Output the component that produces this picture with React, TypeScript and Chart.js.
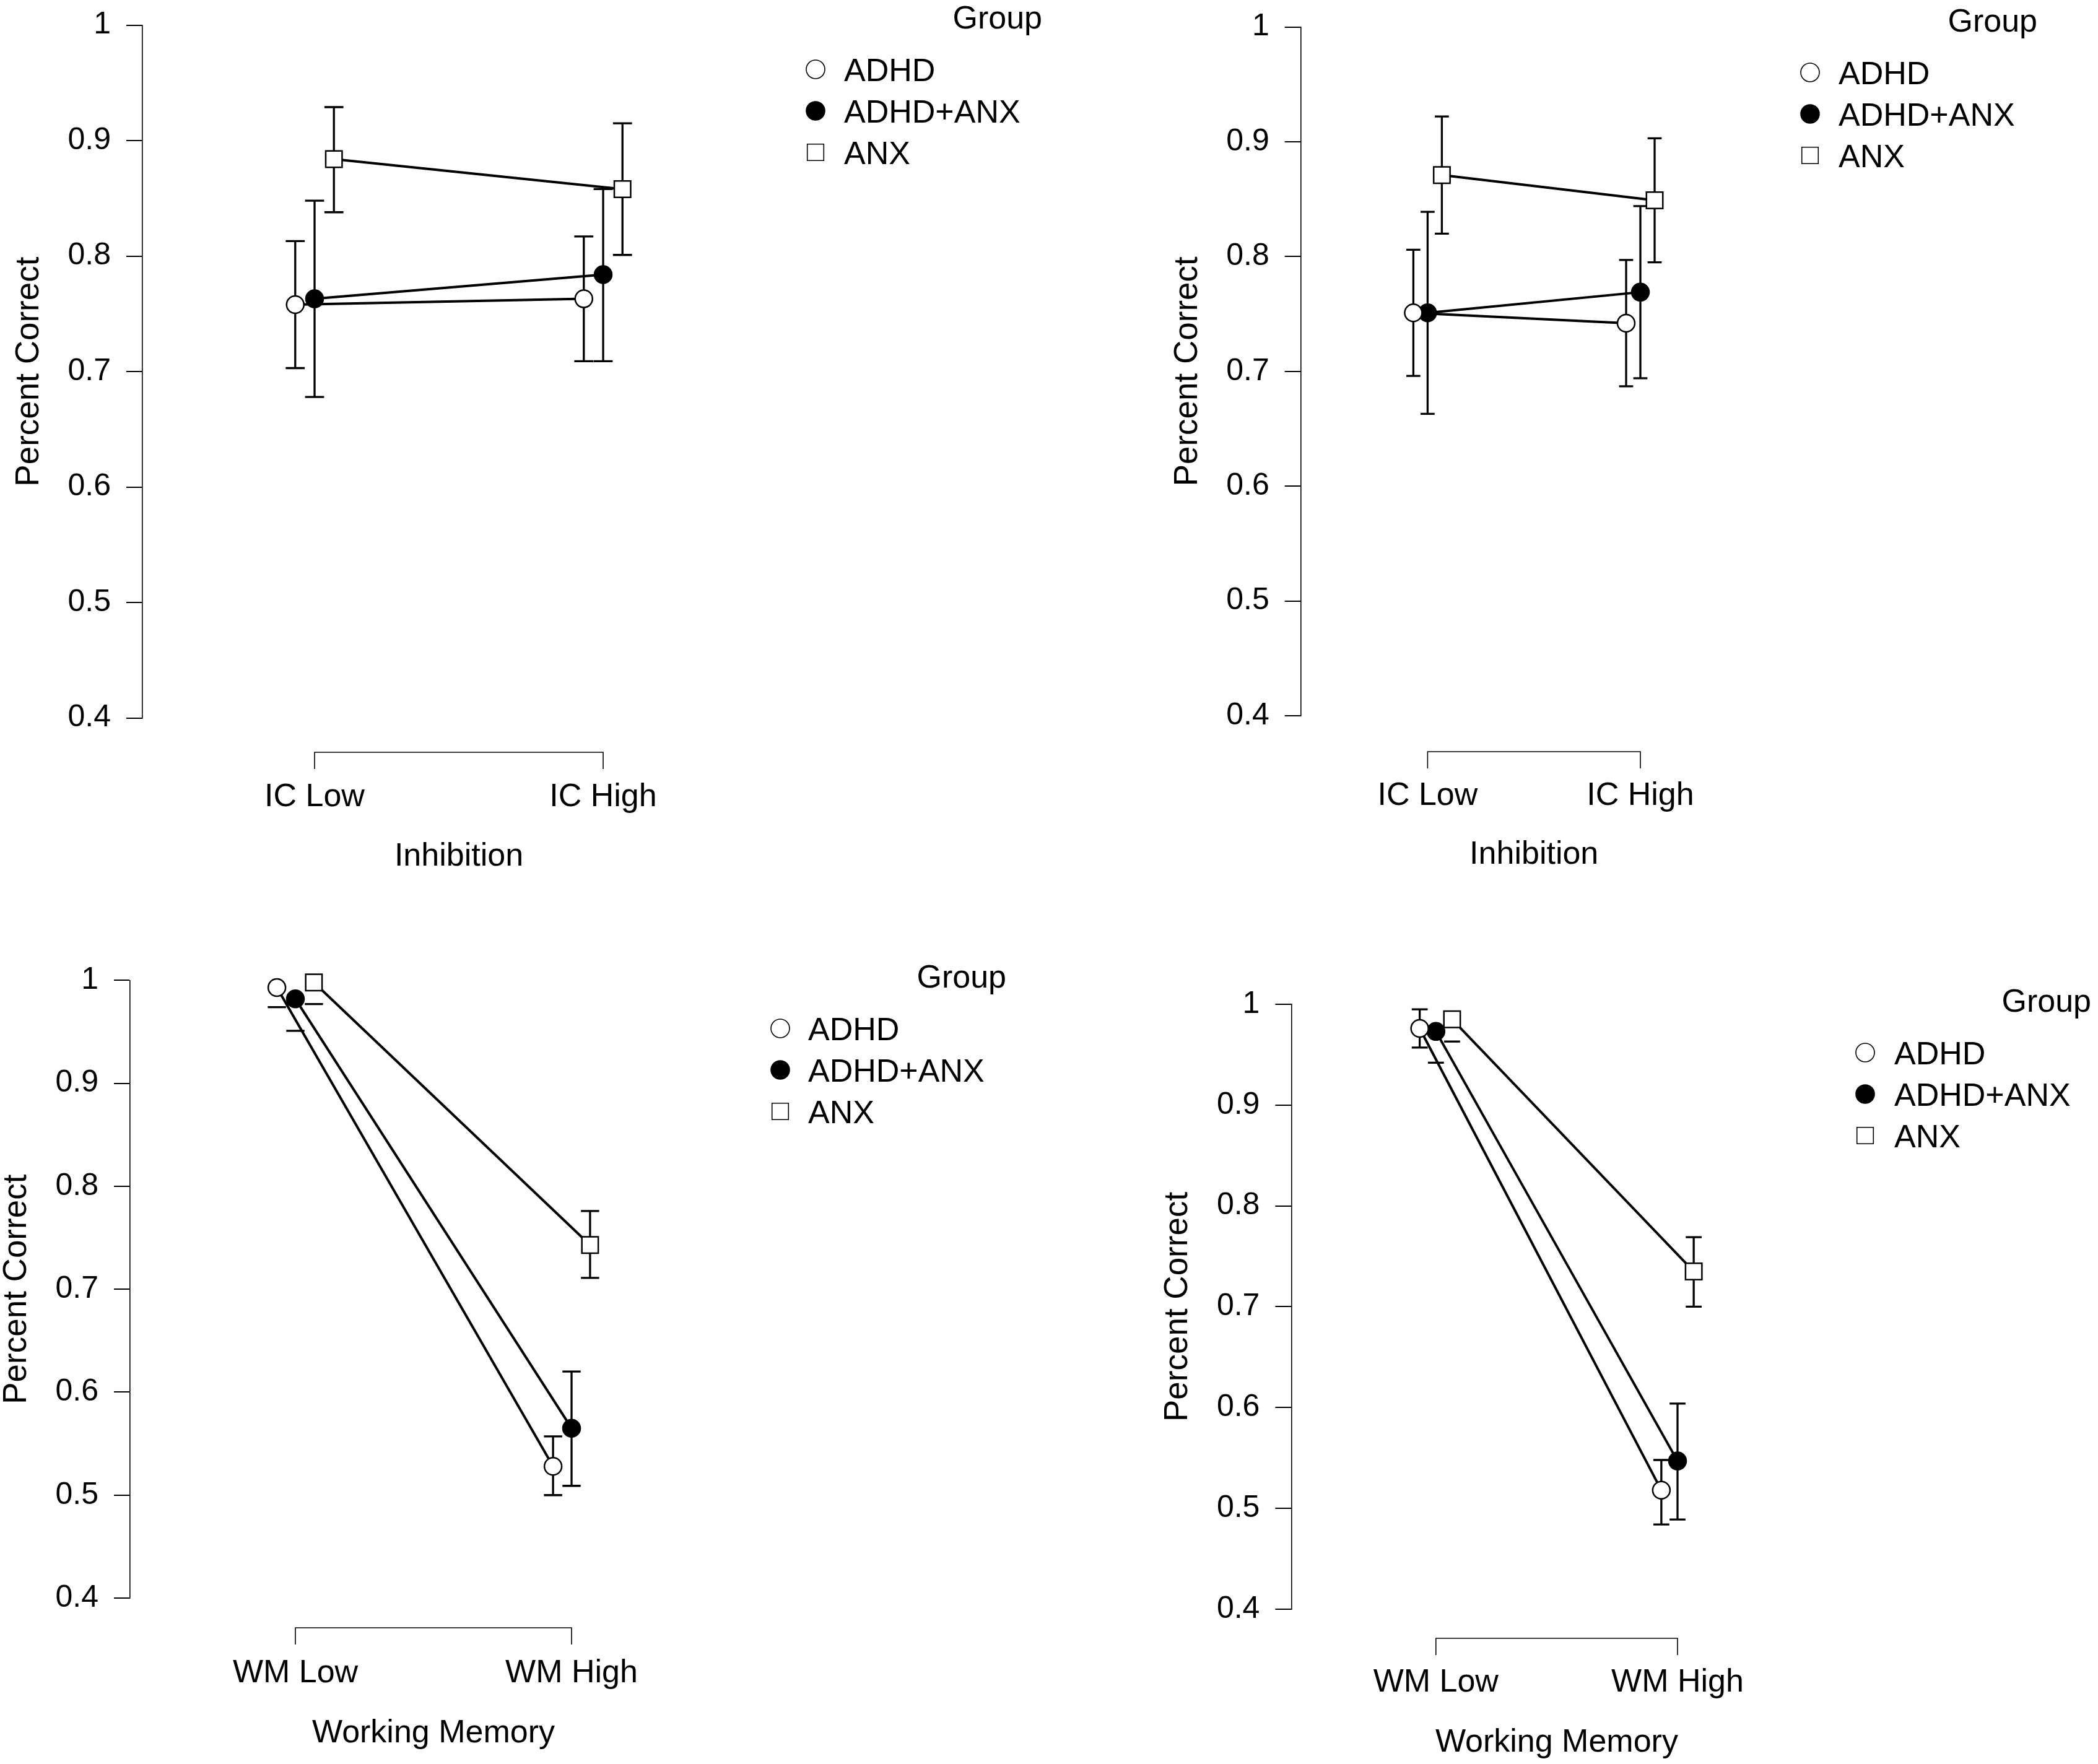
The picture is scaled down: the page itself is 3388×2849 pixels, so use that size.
import React, { useEffect, useRef } from 'react';
import { Chart, registerables } from 'chart.js';

Chart.register(...registerables);

const FONT = '"Liberation Sans", Arial, Helvetica, sans-serif';

// ---- data ----
const groups = ['ADHD', 'ADHD+ANX', 'ANX'];
const icLevels = ['IC Low', 'IC High'];
const wmLevels = ['WM Low', 'WM High'];
const yTicks = [0.4, 0.5, 0.6, 0.7, 0.8, 0.9, 1];

// inhibition, left panel (rows = ADHD, ADHD+ANX, ANX; cols = low, high)
const inhLeftMean = [[0.758, 0.763], [0.763, 0.784], [0.884, 0.858]];
const inhLeftLo = [[0.703, 0.709], [0.678, 0.709], [0.838, 0.801]];
const inhLeftHi = [[0.813, 0.817], [0.848, 0.858], [0.929, 0.915]];

// inhibition, right panel
const inhRightMean = [[0.751, 0.742], [0.751, 0.769], [0.871, 0.849]];
const inhRightLo = [[0.696, 0.687], [0.663, 0.694], [0.820, 0.795]];
const inhRightHi = [[0.806, 0.797], [0.839, 0.844], [0.922, 0.903]];

// working memory, left panel
const wmLeftMean = [[0.993, 0.528], [0.982, 0.565], [0.998, 0.743]];
const wmLeftLo = [[0.974, 0.500], [0.951, 0.509], [0.977, 0.711]];
const wmLeftHi = [[1.012, 0.557], [1.013, 0.620], [1.019, 0.776]];

// working memory, right panel
const wmRightMean = [[0.976, 0.518], [0.973, 0.547], [0.985, 0.735]];
const wmRightLo = [[0.957, 0.484], [0.942, 0.489], [0.963, 0.700]];
const wmRightHi = [[0.995, 0.548], [1.004, 0.604], [1.007, 0.769]];

// horizontal offset of each group around its level (x units)
const dodge = [-0.067, 0, 0.067];
const capHalf = 0.033;
const Y_MIN = 0.4;
const Y_MAX = 1;

// ---- layout (page pixels) ----
const panels = [
  {
    key: 'tl', mean: inhLeftMean, lo: inhLeftLo, hi: inhLeftHi, levels: icLevels, xTitle: 'Inhibition',
    box: { x: 0, y: 0, w: 1694, h: 1424 }, axisX: 230, yTop: 40.6, yBot: 1159.6, c0: 508, c1: 974,
    bracketY: 1215, labelBase: 1302, titleBase: 1398, yTitleX: 47.5,
    legend: { groupRight: 1683, markerX: 1317, textX: 1363, row1: 131 },
  },
  {
    key: 'tr', mean: inhRightMean, lo: inhRightLo, hi: inhRightHi, levels: icLevels, xTitle: 'Inhibition',
    box: { x: 1694, y: 0, w: 1694, h: 1424 }, axisX: 2100.7, yTop: 43.6, yBot: 1156, c0: 2305.4, c1: 2649,
    bracketY: 1214, labelBase: 1300, titleBase: 1395, yTitleX: 1918,
    legend: { groupRight: 3290, markerX: 2923, textX: 2969, row1: 136 },
  },
  {
    key: 'bl', mean: wmLeftMean, lo: wmLeftLo, hi: wmLeftHi, levels: wmLevels, xTitle: 'Working Memory',
    box: { x: 0, y: 1424, w: 1694, h: 1425 }, axisX: 210, yTop: 1583.4, yBot: 2581, c0: 477, c1: 923,
    bracketY: 2629, labelBase: 2717, titleBase: 2814, yTitleX: 27.8,
    legend: { groupRight: 1625, markerX: 1260, textX: 1305, row1: 1680 },
  },
  {
    key: 'br', mean: wmRightMean, lo: wmRightLo, hi: wmRightHi, levels: wmLevels, xTitle: 'Working Memory',
    box: { x: 1694, y: 1424, w: 1694, h: 1425 }, axisX: 2085.4, yTop: 1621.9, yBot: 2599, c0: 2318.8, c1: 2709,
    bracketY: 2646, labelBase: 2732, titleBase: 2829, yTitleX: 1902,
    legend: { groupRight: 3377, markerX: 3012, textX: 3059, row1: 1719 },
  },
];

const TITLE_SIZE = 53;
const TEXT_SIZE = 52;
const TICK_SIZE = 50;
const ROW_GAP = 67;

function drawMarker(ctx: CanvasRenderingContext2D, s: number, x: number, y: number) {
  ctx.save();
  ctx.lineWidth = 1.6;
  ctx.strokeStyle = '#000';
  ctx.beginPath();
  if (s === 2) {
    ctx.rect(x - 13.3, y - 13.3, 26.6, 26.6);
    ctx.fillStyle = '#fff';
  } else {
    ctx.arc(x, y, 15, 0, Math.PI * 2);
    ctx.fillStyle = s === 1 ? '#000' : '#fff';
  }
  ctx.fill();
  ctx.stroke();
  ctx.restore();
}

const Panel: React.FC<{ cfg: any }> = ({ cfg }) => {
  const canvasRef = useRef<HTMLCanvasElement | null>(null);
  const chartRef = useRef<Chart | null>(null);

  useEffect(() => {
    if (!canvasRef.current) return;
    const ctx = canvasRef.current.getContext('2d');
    if (!ctx) return;
    if (chartRef.current) chartRef.current.destroy();

    const { box } = cfg;
    const unit = cfg.c1 - cfg.c0;
    const L = cfg.axisX - box.x;
    const R = box.w - 10;
    const xMin = -(cfg.c0 - cfg.axisX) / unit;
    const xMax = xMin + (R - L) / unit;
    const padLeft = cfg.yTitleX - box.x - (TITLE_SIZE * 1.2) / 2;
    const yW = L - padLeft;

    const decor = {
      id: 'decor',
      beforeDatasetsDraw(chart: any) {
        const { ctx: c, scales } = chart;
        const x = scales.x;
        const y = scales.y;
        c.save();
        c.strokeStyle = '#000';
        c.lineWidth = 3.3;
        groups.forEach((_g, s) => {
          cfg.mean[s].forEach((_m: number, i: number) => {
            const xv = i + dodge[s];
            const px = x.getPixelForValue(xv);
            const w = x.getPixelForValue(xv + capHalf) - px;
            const lo = cfg.lo[s][i];
            const hi = cfg.hi[s][i];
            const yl = y.getPixelForValue(lo);
            c.beginPath();
            if (hi <= Y_MAX) {
              const yh = y.getPixelForValue(hi);
              c.moveTo(px, yl);
              c.lineTo(px, yh);
              c.moveTo(px - w, yh);
              c.lineTo(px + w, yh);
            }
            // bars reaching past the axis keep only their lower cap
            c.moveTo(px - w, yl);
            c.lineTo(px + w, yl);
            c.stroke();
          });
        });
        c.restore();
      },
      afterDraw(chart: any) {
        const { ctx: c, scales } = chart;
        const x = scales.x;
        const bx0 = x.getPixelForValue(0);
        const bx1 = x.getPixelForValue(1);
        const by = cfg.bracketY - box.y;
        c.save();
        // category bracket
        c.strokeStyle = '#000';
        c.lineWidth = 1.6;
        c.beginPath();
        c.moveTo(bx0, by + 27);
        c.lineTo(bx0, by);
        c.lineTo(bx1, by);
        c.lineTo(bx1, by + 27);
        c.stroke();
        // level labels and axis title
        c.fillStyle = '#000';
        c.font = `${TEXT_SIZE}px ${FONT}`;
        c.textAlign = 'center';
        c.textBaseline = 'alphabetic';
        cfg.levels.forEach((lab: string, i: number) => {
          c.fillText(lab, x.getPixelForValue(i), cfg.labelBase - box.y);
        });
        c.fillText(cfg.xTitle, (bx0 + bx1) / 2, cfg.titleBase - box.y);
        // legend
        const lg = cfg.legend;
        c.textAlign = 'right';
        c.fillText('Group', lg.groupRight - box.x, lg.row1 - 85 - box.y);
        c.textAlign = 'left';
        groups.forEach((g, s) => {
          const base = lg.row1 + s * ROW_GAP - box.y;
          drawMarker(c, s, lg.markerX - box.x, base - 19);
          c.fillStyle = '#000';
          c.fillText(g, lg.textX - box.x, base);
        });
        c.restore();
      },
    };

    chartRef.current = new Chart(ctx, {
      type: 'line',
      data: {
        datasets: groups.map((g, s) => ({
          label: g,
          data: cfg.mean[s].map((v: number, i: number) => ({ x: i + dodge[s], y: v })),
          borderColor: '#000',
          borderWidth: 4,
          pointStyle: s === 2 ? 'rect' : 'circle',
          pointRadius: s === 2 ? 18.7 : 14,
          pointBackgroundColor: s === 1 ? '#000' : '#fff',
          pointBorderColor: '#000',
          pointBorderWidth: 2.5,
          fill: false,
          tension: 0,
          clip: false,
        })),
      },
      options: {
        animation: false,
        responsive: false,
        devicePixelRatio: 1,
        events: [],
        layout: {
          autoPadding: false,
          padding: {
            left: padLeft,
            right: box.w - R,
            top: cfg.yTop - box.y,
            bottom: box.y + box.h - cfg.yBot,
          },
        },
        plugins: {
          legend: { display: false },
          tooltip: { enabled: false },
        },
        scales: {
          x: { type: 'linear', min: xMin, max: xMax, display: false },
          y: {
            type: 'linear',
            min: Y_MIN,
            max: Y_MAX,
            afterBuildTicks: (sc: any) => {
              sc.ticks = yTicks.map((v) => ({ value: v }));
            },
            afterFit: (sc: any) => {
              sc.width = yW;
              sc.paddingTop = 0;
              sc.paddingBottom = 0;
            },
            ticks: {
              color: '#000',
              font: { family: FONT, size: TICK_SIZE },
              padding: 25,
              callback: (v: any) => String(v),
            },
            grid: { drawOnChartArea: false, drawTicks: true, tickLength: 26, color: '#000', lineWidth: 2 },
            border: { display: true, color: '#000', width: 1.6 },
            title: {
              display: true,
              text: 'Percent Correct',
              color: '#000',
              font: { family: FONT, size: TITLE_SIZE },
              padding: 0,
            },
          },
        },
      },
      plugins: [decor],
    } as any);

    return () => {
      if (chartRef.current) {
        chartRef.current.destroy();
        chartRef.current = null;
      }
    };
  }, [cfg]);

  return (
    <canvas
      ref={canvasRef}
      width={cfg.box.w}
      height={cfg.box.h}
      style={{ position: 'absolute', left: cfg.box.x, top: cfg.box.y, width: cfg.box.w, height: cfg.box.h }}
    />
  );
};

export default function App() {
  return (
    <div style={{ position: 'absolute', left: 0, top: 0, width: 3388, height: 2849, background: '#fff' }}>
      {panels.map((p) => (
        <Panel key={p.key} cfg={p} />
      ))}
    </div>
  );
}
